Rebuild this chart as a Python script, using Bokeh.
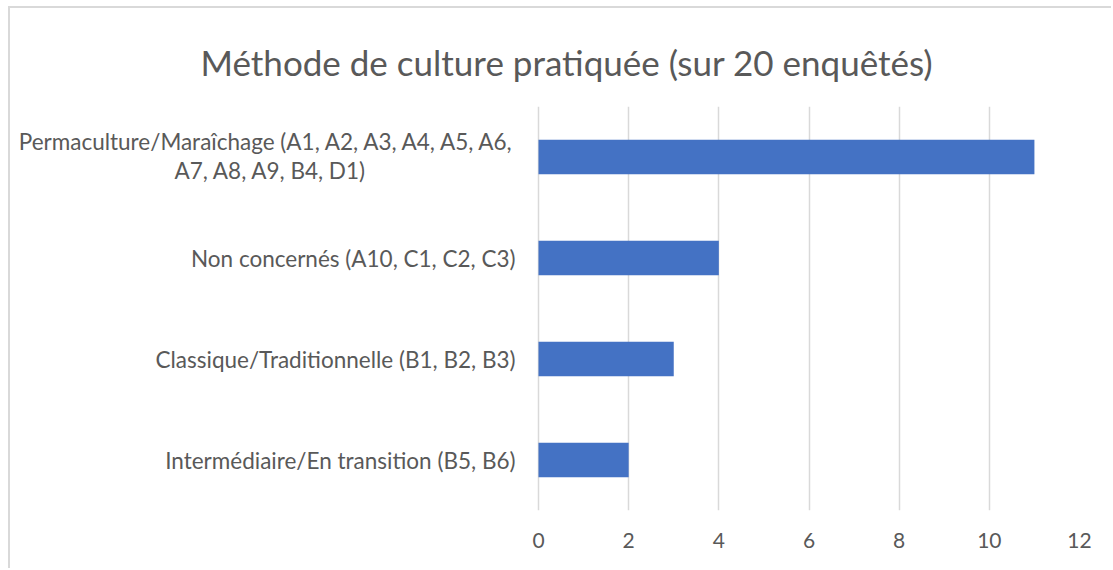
from bokeh.plotting import figure
from bokeh.models import FactorRange, Range1d, FixedTicker, ColumnDataSource, LinearAxis
from bokeh.core.properties import value
from bokeh.embed import file_html
from bokeh.resources import INLINE

categories = [
    "Permaculture/Maraîchage (A1, A2, A3, A4, A5, A6,\nA7, A8, A9, B4, D1)",
    "Non concernés (A10, C1, C2, C3)",
    "Classique/Traditionnelle (B1, B2, B3)",
    "Intermédiaire/En transition (B5, B6)",
]
values = [11, 4, 3, 2]
x_ticks = [0, 2, 4, 6, 8, 10, 12]
title_text = "Méthode de culture pratiquée (sur 20 enquêtés)"

FONT = "Lato"
TXT = "#595959"
GRID = "#d9d9d9"
BAR = "#4472C4"
LABEL_SIZE = "22.5px"

# layout geometry (pixels): label area left of the value axis, and plot width
PX_LABELS = 528
PX_PLOT = 541
x_max = max(x_ticks)
x_start = -x_max * PX_LABELS / PX_PLOT

keys = [c.split("\n")[0] for c in categories]
factors = list(reversed(keys))

p = figure(
    width=1103, height=562,
    y_range=FactorRange(factors=factors, range_padding=0),
    x_range=Range1d(x_start, x_max),
    output_backend="svg", toolbar_location=None,
    min_border_left=0, min_border_right=34, min_border_top=98, min_border_bottom=60,
)
p.styles = {"margin-left": "8px", "margin-top": "6px",
            "border-left": "2px solid #d9d9d9", "border-top": "2px solid #d9d9d9"}

p.hbar(y=keys, right=values, left=0, height=0.34, color=BAR, line_color=None)

# category labels (right-aligned next to the value axis origin)
single = ColumnDataSource(dict(
    y=[k for k, c in zip(keys, categories) if "\n" not in c],
    x=[0] * sum(1 for c in categories if "\n" not in c),
    t=[c for c in categories if "\n" not in c],
))
p.text(x="x", y="y", text="t", source=single, x_offset=-23,
       text_align="right", text_baseline="middle",
       text_font=value(FONT), text_font_size=LABEL_SIZE, text_color=TXT)

for key, cat in zip(keys, categories):
    lines = cat.split("\n")
    if len(lines) > 1:
        first = ColumnDataSource(dict(x=[0], y=[key], t=[lines[0]]))
        second = ColumnDataSource(dict(x=[0], y=[key], t=[lines[1]]))
        p.text(x="x", y="y", text="t", source=first, x_offset=-23, y_offset=-16,
               text_align="right", text_baseline="middle",
               text_font=value(FONT), text_font_size=LABEL_SIZE, text_color=TXT)
        p.text(x="x", y="y", text="t", source=second, x_offset=-268, y_offset=13,
               text_align="center", text_baseline="middle",
               text_font=value(FONT), text_font_size=LABEL_SIZE, text_color=TXT)

# invisible spacer axis between the title and the plot area
spacer = LinearAxis(ticker=FixedTicker(ticks=x_ticks),
                    major_label_overrides={t: " " for t in x_ticks},
                    axis_line_color=None, major_tick_line_color=None,
                    minor_tick_line_color=None, major_tick_out=0, major_tick_in=0,
                    major_label_text_font_size="11px", major_label_standoff=4)
p.add_layout(spacer, "above")

p.title.text = title_text
p.title.text_font = FONT
p.title.text_font_size = "35px"
p.title.text_font_style = "normal"
p.title.text_color = TXT
p.title.align = "left"
p.title.offset = 190
p.title.standoff = 10

p.outline_line_color = None
p.ygrid.grid_line_color = None
p.xgrid.grid_line_color = GRID
p.xgrid.grid_line_width = 1.5
p.xgrid.ticker = FixedTicker(ticks=x_ticks)

p.below[0].ticker = FixedTicker(ticks=x_ticks)
p.below[0].axis_line_color = None
p.below[0].major_tick_line_color = None
p.below[0].minor_tick_line_color = None
p.below[0].major_label_text_font = FONT
p.below[0].major_label_text_font_size = "21px"
p.below[0].major_label_text_color = TXT
p.below[0].major_label_standoff = 16

p.yaxis.visible = False

open("out.html", "w").write(file_html(p, INLINE))
